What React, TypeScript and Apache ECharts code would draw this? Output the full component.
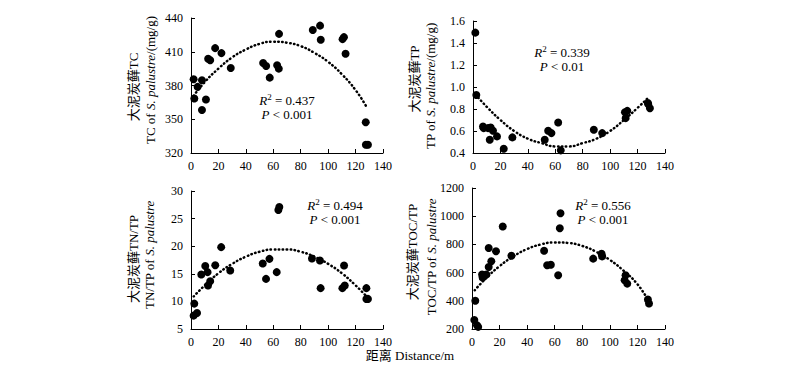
import React, { useEffect, useRef } from 'react';
import * as echarts from 'echarts';

// distance ticks
const xTicks = [0, 20, 40, 60, 80, 100, 120, 140];

// TC (mg/g) vs distance
const tcPoints: [number, number][] = [
  [1.9, 385.6], [2.4, 368.5], [4.8, 378.8], [8, 384.7], [8, 358.2], [10.9, 367.6],
  [12.5, 403.8], [14, 402.4], [17.6, 413.2], [22.2, 408.8], [29, 395.6],
  [52.6, 400], [54.8, 397.4], [57.4, 387], [62.8, 398], [64, 395], [64.2, 425.9],
  [88.8, 429.4], [94.1, 433.2], [94.6, 420.6], [110.5, 421.2], [111.5, 423], [112.7, 408.2],
  [127.4, 347.4], [127.5, 327.4], [129, 327.4],
];
const tcFit: [number, number][] = [
  [2, 371], [10, 383], [20, 395], [30, 405], [40, 412], [50, 417], [60, 419], [70, 418],
  [80, 415], [90, 409], [100, 401], [110, 390], [120, 376], [127.5, 362],
];

// TP (mg/g) vs distance
const tpPoints: [number, number][] = [
  [1.7, 1.494], [2.4, 0.928], [7.3, 0.641], [7.8, 0.626], [11, 0.626], [12.9, 0.632],
  [12.2, 0.52], [14.6, 0.602], [17.5, 0.551], [22.4, 0.439], [28.7, 0.542],
  [52.3, 0.521], [54.8, 0.602], [57.2, 0.581], [62.1, 0.677], [64, 0.424],
  [88.1, 0.611], [94.2, 0.581], [110.8, 0.771], [112.5, 0.783], [111.3, 0.717],
  [127.5, 0.855], [127.8, 0.843], [129, 0.807],
];
const tpFit: [number, number][] = [
  [2, 0.93], [10, 0.82], [20, 0.7], [30, 0.6], [40, 0.53], [50, 0.49], [60, 0.46], [70, 0.46],
  [80, 0.49], [90, 0.53], [100, 0.6], [110, 0.7], [120, 0.81], [127.5, 0.9],
];

// TN/TP vs distance
const tntpPoints: [number, number][] = [
  [1.9, 7.42], [2.4, 9.6], [4.4, 7.9], [7.5, 14.87], [10.4, 16.4], [12.1, 15.3],
  [12.4, 12.87], [14, 13.66], [17.7, 16.56], [22, 19.83], [28.6, 15.6],
  [52.3, 16.86], [54.7, 14.08], [57.2, 17.71], [62.5, 15.3], [63.7, 26.55], [64.4, 27.1],
  [88.2, 17.77], [94, 17.4], [94.5, 12.4], [110.4, 12.4], [111.6, 16.5], [112.1, 12.87],
  [127.9, 12.4], [127.9, 10.45], [129, 10.45],
];
const tntpFit: [number, number][] = [
  [2, 10.9], [10, 12.9], [20, 15.1], [30, 16.8], [40, 18.1], [50, 19.0], [60, 19.4], [70, 19.4],
  [80, 19.0], [90, 18.1], [100, 16.8], [110, 15.1], [120, 12.9], [128, 10.9],
];

// TOC/TP vs distance
const toctpPoints: [number, number][] = [
  [1.7, 263.5], [2.4, 400], [3.6, 226], [4.5, 215], [7.3, 586], [7.7, 565], [10.4, 586],
  [12.1, 774], [12.1, 640], [14, 680], [17.4, 751], [22.3, 927], [28.6, 720],
  [52.3, 755], [54.5, 652], [57.2, 656], [62.5, 581], [63.7, 915], [64.2, 1021],
  [87.9, 699], [94, 734], [94.4, 715], [111.4, 581], [110.7, 546], [112.6, 522],
  [127.6, 409], [128.4, 381],
];
const toctpFit: [number, number][] = [
  [2, 475], [10, 558], [20, 646], [30, 715], [40, 767], [50, 800], [60, 814], [70, 810],
  [80, 789], [90, 748], [100, 690], [110, 613], [120, 518], [128, 400],
];

const stats = [
  { r2: '0.437', p: '0.001' },
  { r2: '0.339', p: '0.01' },
  { r2: '0.494', p: '0.001' },
  { r2: '0.556', p: '0.001' },
];

const SERIF = '"Liberation Serif", "Times New Roman", "Noto Sans CJK SC", serif';

const grids = [
  { left: 191, top: 18, width: 192, height: 135 },
  { left: 473, top: 21, width: 192, height: 132 },
  { left: 191, top: 191, width: 192, height: 138 },
  { left: 472, top: 188, width: 193, height: 141 },
];

const yRanges = [
  { min: 320, max: 440, interval: 30, dec: 0 },
  { min: 0.4, max: 1.6, interval: 0.2, dec: 1 },
  { min: 5, max: 30, interval: 5, dec: 0 },
  { min: 200, max: 1200, interval: 200, dec: 0 },
];

const annotPos = [
  { x: 287, y: 100 },
  { x: 562, y: 52 },
  { x: 335, y: 205 },
  { x: 603, y: 205 },
];

const yNames = [
  { cn: '大泥炭藓TC', pre: 'TC of ', post: '/(mg/g)', x1: 133, y1: 87, x2: 150, y2: 80 },
  { cn: '大泥炭藓TP', pre: 'TP of ', post: '/(mg/g)', x1: 414, y1: 79, x2: 430, y2: 86 },
  { cn: '大泥炭藓TN/TP', pre: 'TN/TP of ', post: '', x1: 133, y1: 259, x2: 149, y2: 255 },
  { cn: '大泥炭藓TOC/TP', pre: 'TOC/TP of ', post: '', x1: 412, y1: 252, x2: 431, y2: 257 },
];

export default function App() {
  const ref = useRef<HTMLDivElement>(null);
  useEffect(() => {
    if (!ref.current) return;
    const chart = echarts.init(ref.current, null, { renderer: 'svg' });
    const pointSets = [tcPoints, tpPoints, tntpPoints, toctpPoints];
    const fitSets = [tcFit, tpFit, tntpFit, toctpFit];
    const axisLine = { show: true, lineStyle: { color: '#000', width: 1 } };
    const xAxis = grids.map((_, i) => ({
      type: 'value',
      gridIndex: i,
      min: xTicks[0],
      max: xTicks[xTicks.length - 1],
      interval: xTicks[1] - xTicks[0],
      axisLine,
      axisTick: { show: true, inside: true, length: 4, lineStyle: { color: '#000' } },
      axisLabel: { color: '#000', fontSize: 12, fontFamily: SERIF, margin: 7 },
      splitLine: { show: false },
    }));
    const yAxis = yRanges.map((r, i) => ({
      type: 'value',
      gridIndex: i,
      min: r.min,
      max: r.max,
      interval: r.interval,
      axisLine,
      axisTick: { show: true, inside: true, length: 4, lineStyle: { color: '#000' } },
      axisLabel: {
        color: '#000',
        fontSize: 12,
        fontFamily: SERIF,
        margin: 8,
        formatter: (v: number) => v.toFixed(r.dec),
      },
      splitLine: { show: false },
    }));
    const series: any[] = [];
    pointSets.forEach((pts, i) => {
      series.push({
        type: 'line',
        xAxisIndex: i,
        yAxisIndex: i,
        data: fitSets[i],
        showSymbol: false,
        smooth: true,
        lineStyle: { color: '#000', width: 2.5, type: [0.5, 3.5], cap: 'round' },
        z: 2,
      });
      series.push({
        type: 'scatter',
        xAxisIndex: i,
        yAxisIndex: i,
        data: pts,
        symbolSize: 8,
        itemStyle: { color: '#000', opacity: 1 },
        z: 3,
      });
    });
    const rich = {
      n: { fontFamily: SERIF, fontSize: 13, color: '#000' },
      i: { fontFamily: SERIF, fontSize: 13, fontStyle: 'italic', color: '#000' },
      s: { fontFamily: SERIF, fontSize: 9, color: '#000', padding: [0, 0, 6, 0] },
      c: { fontFamily: SERIF, fontSize: 13, color: '#000' },
    };
    const graphics: any[] = [];
    stats.forEach((s, i) => {
      graphics.push({
        type: 'text',
        x: annotPos[i].x,
        y: annotPos[i].y,
        style: {
          text: `{i|R}{s|2}{n| = ${s.r2}}`,
          rich,
          align: 'center',
          verticalAlign: 'middle',
        },
      });
      graphics.push({
        type: 'text',
        x: annotPos[i].x,
        y: annotPos[i].y + 14,
        style: {
          text: `{i|P}{n| < ${s.p}}`,
          rich,
          align: 'center',
          verticalAlign: 'middle',
        },
      });
    });
    yNames.forEach((yn) => {
      graphics.push({
        type: 'text',
        x: yn.x1,
        y: yn.y1,
        rotation: Math.PI / 2,
        style: {
          text: yn.cn,
          font: `13px ${SERIF}`,
          fill: '#000',
          align: 'center',
          verticalAlign: 'middle',
        },
      });
      graphics.push({
        type: 'text',
        x: yn.x2,
        y: yn.y2,
        rotation: Math.PI / 2,
        style: {
          text: `{n|${yn.pre}}{i|S. palustre}` + (yn.post ? `{n|${yn.post}}` : ''),
          rich,
          align: 'center',
          verticalAlign: 'middle',
        },
      });
    });
    graphics.push({
      type: 'text',
      x: 410,
      y: 355,
      style: {
        text: '距离 Distance/m',
        font: `13px ${SERIF}`,
        fill: '#000',
        align: 'center',
        verticalAlign: 'middle',
      },
    });
    chart.setOption({
      animation: false,
      backgroundColor: '#fff',
      grid: grids.map((g) => ({ ...g, containLabel: false })),
      xAxis,
      yAxis,
      series,
      graphic: graphics,
    });
    return () => chart.dispose();
  }, []);
  return (
    <div
      ref={ref}
      style={{ position: 'absolute', left: 0, top: 0, width: 800, height: 376, background: '#fff' }}
    />
  );
}
